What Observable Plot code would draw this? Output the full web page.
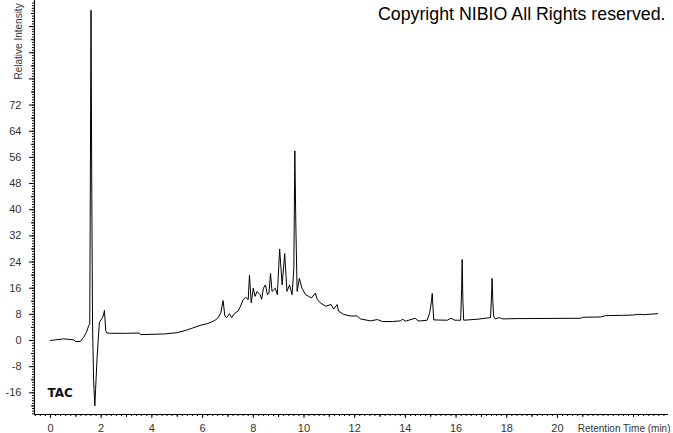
<!DOCTYPE html>
<html><head><meta charset="utf-8">
<script src="https://cdn.jsdelivr.net/npm/d3@7"></script>
<script src="https://cdn.jsdelivr.net/npm/@observablehq/plot@0.6"></script>
<style>body{margin:0;background:#fff;}</style>
</head><body><div id="chart"></div>
<script>
// Retention time (min)
const times = [
  0.00, 0.20, 0.52, 0.92, 0.99, 1.18, 1.31, 1.42, 1.51, 1.55,
  1.60, 1.63, 1.66, 1.70, 1.75, 1.78, 1.84, 1.93, 2.02, 2.08, 2.13, 2.18, 2.22, 2.40,
  3.00, 3.50, 3.55, 4.50, 5.00, 5.30, 5.60, 5.90, 6.20, 6.45, 6.60, 6.72, 6.81, 6.88, 6.95,
  7.06, 7.15, 7.25, 7.40, 7.50, 7.60, 7.70, 7.80, 7.85, 7.92, 8.00, 8.07, 8.15, 8.27, 8.33,
  8.40, 8.48, 8.56, 8.62, 8.68, 8.74, 8.87, 8.95, 9.04, 9.14, 9.24, 9.33, 9.43, 9.53, 9.60,
  9.64, 9.68, 9.73, 9.82, 9.92, 10.06, 10.18, 10.30, 10.45, 10.52, 10.65, 10.85, 11.07,
  11.17, 11.31, 11.36, 11.56, 11.83, 12.10, 12.23, 12.62, 12.90, 13.10, 13.50, 13.80, 13.90,
  14.00, 14.30, 14.40, 14.50, 14.60, 14.86, 14.96, 15.03, 15.06, 15.09, 15.12, 15.65, 15.80, 15.95, 16.18,
  16.22, 16.24, 16.27, 16.30, 16.83, 17.36, 17.40, 17.42, 17.45, 17.48, 17.55, 17.70,
  17.85, 18.40, 20.90, 21.00, 21.70, 21.90, 22.60, 23.00, 23.20, 23.40, 23.95
];
// Relative intensity
const intensity = [
  0.0, 0.2, 0.5, 0.2, -0.3, -0.3, 1.0, 2.5, 4.6, 5.1,
  101, 45, 5, -12, -20, -15, -5, 5.6, 6.6, 7.5, 9.2, 3.0, 2.3, 2.2,
  2.2, 2.3, 1.8, 2.0, 2.4, 3.0, 3.8, 4.6, 5.2, 6.0, 6.8, 8.5, 12.2, 7.5, 7.0,
  8.2, 7.0, 8.2, 9.0, 10.5, 12.5, 13.2, 12.5, 19.9, 11.5, 16, 13.5, 15, 14, 12.6,
  16, 17, 14, 14.5, 20.5, 15, 16, 14, 28, 17, 26.6, 15, 17, 14, 22,
  58, 35, 15, 19, 16, 14, 13.5, 13, 14.5, 12.6, 11.5, 10.5, 11,
  9.6, 11, 9, 8, 7.5, 7.5, 6.6, 6, 6.4, 5.8, 5.8, 6, 6.5,
  5.9, 6.6, 6.8, 6.0, 6, 6.2, 8.5, 12.0, 14.4, 10, 6.3, 6.2, 6.8, 6.2, 6.2,
  16, 24.8, 12, 6.2, 6.5, 7, 14, 19, 12, 7.5, 6.6, 7,
  6.6, 6.7, 6.8, 7.1, 7.2, 7.6, 7.7, 7.8, 8.0, 7.9, 8.2
];
const xTickLabels = [0, 2, 4, 6, 8, 10, 12, 14, 16, 18, 20];
const yTickLabels = [-16, -8, 0, 8, 16, 24, 32, 40, 48, 56, 64, 72];
const yUnlabeledMajor = [80, 88, 96];
const xTitle = "Retention Time (min)";
const yTitle = "Relative Intensity";
const traceLabel = "TAC";
const copyright = "Copyright NIBIO All Rights reserved.";

const data = times.map((t, i) => ({t, v: intensity[i]}));
const xDomain = [-0.63, 24.38];
const yDomain = [-22.63, 103.98];
const xMinor = d3.range(-3, 122).map(i => i / 5);
const xMid = d3.range(0, 25).filter(i => i % 2 === 1);
const yMinor = d3.range(-28, 130).map(i => i * 0.8);
const yMid = d3.range(-20, 104, 8);
const font = "'Liberation Sans', Arial, sans-serif";

const chart = Plot.plot({
  width: 673, height: 433,
  marginLeft: 34, marginRight: 5, marginTop: 0, marginBottom: 19,
  style: {fontFamily: font, fontSize: "11px", color: "black", background: "#fff", overflow: "visible"},
  x: {domain: xDomain},
  y: {domain: yDomain},
  marks: [
    Plot.axisX({ticks: xMinor, tickSize: 2, tickFormat: () => "", label: null}),
    Plot.axisX({ticks: xMid, tickSize: 3, tickFormat: () => "", label: null}),
    Plot.axisX({ticks: xTickLabels, tickSize: 4, tickPadding: 6, tickFormat: d => String(d), label: null, fill: "#333"}),
    Plot.axisY({ticks: yMinor, tickSize: 2, tickFormat: () => "", label: null}),
    Plot.axisY({ticks: yMid, tickSize: 3, tickFormat: () => "", label: null}),
    Plot.axisY({ticks: yUnlabeledMajor, tickSize: 5, tickFormat: () => "", label: null}),
    Plot.axisY({ticks: yTickLabels, tickSize: 5, tickPadding: 8, tickFormat: d => String(d), label: null, fill: "#333"}),
    Plot.ruleX([xDomain[0]], {stroke: "black"}),
    Plot.ruleY([yDomain[0]], {stroke: "black"}),
    Plot.line(data, {x: "t", y: "v", stroke: "black", strokeWidth: 1}),
    Plot.text([yTitle], {text: d => d, frameAnchor: "top-left", dx: -16, dy: 79, rotate: -90,
      textAnchor: "start", lineAnchor: "middle", fill: "#333", fontSize: 10}),
    Plot.text([xTitle], {text: d => d, frameAnchor: "bottom-right", dx: 2, dy: 14,
      textAnchor: "end", lineAnchor: "middle", fill: "#333", fontSize: 10}),
    Plot.text([traceLabel], {text: d => d, frameAnchor: "bottom-left", dx: 13, dy: -21,
      textAnchor: "start", lineAnchor: "middle", fill: "#111", fontSize: 12, fontWeight: "bold",
      fontFamily: "'DejaVu Sans', Verdana, sans-serif"}),
    Plot.text([copyright], {text: d => d, frameAnchor: "top-right", dx: -3, dy: 14,
      textAnchor: "end", lineAnchor: "middle", fill: "black", fontSize: 17.8})
  ]
});
document.getElementById("chart").appendChild(chart);
</script>
</body></html>
